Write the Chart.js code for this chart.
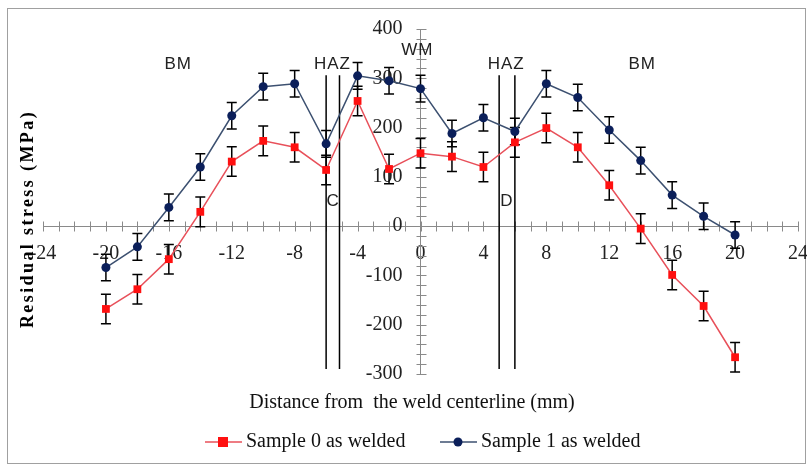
<!DOCTYPE html>
<html>
<head>
<meta charset="utf-8">
<script src="https://cdn.jsdelivr.net/npm/chart.js@4/dist/chart.umd.min.js"></script>
<style>
html,body{margin:0;padding:0;background:#fff;}
#wrap{position:relative;width:807px;height:464px;}
</style>
</head>
<body>
<div id="wrap"><canvas id="c"></canvas></div>
<script>
// ---- data ----
const distances = [-20,-18,-16,-14,-12,-10,-8,-6,-4,-2,0,2,4,6,8,10,12,14,16,18,20];
const sample0 = [-168,-128,-67,29,131,173,160,114,254,116,148,141,120,170,199,160,83,-5,-99,-162,-266];
const sample1 = [-84,-42,38,120,224,283,289,167,305,295,279,188,220,192,289,261,195,133,63,20,-18];
const err0 = [30,30,30,30,30,30,30,30,30,30,30,30,30,30,30,30,30,30,30,30,30];
const err1 = [27,27,27,27,27,27,27,27,27,27,27,27,27,27,27,27,27,27,27,27,27];
const seriesNames = ['Sample 0 as welded','Sample 1 as welded'];
const zoneBoundaries = [-6,-5.15,5,6];
const zoneLabels = ['BM','HAZ','WM','HAZ','BM','C','D'];
const zoneLabelX = [-15.4,-5.6,-0.2,5.45,14.1,-5.55,5.5];
const zoneLabelY = [329,329,357,329,329,50,50];
const xTitle = 'Distance from  the weld centerline (mm)';
const yTitle = 'Residual stress (MPa)';

const pts = (ys) => distances.map((x,i)=>({x:x,y:ys[i]}));
const RED = '#ff1010', RED_LINE = '#e8505a';
const NAVY = '#0b1f5a', NAVY_LINE = '#3c5070';
const SERIF = '"Liberation Serif", "Times New Roman", serif';

const decor = {
  id:'decor',
  beforeDraw(chart){
    const ctx = chart.ctx;
    ctx.save();
    ctx.strokeStyle = '#a0a0a0'; ctx.lineWidth = 1;
    ctx.strokeRect(7.5, 8.5, 798, 455);
    ctx.restore();
  },
  beforeDatasetsDraw(chart){
    const ctx = chart.ctx, xs = chart.scales.x, ys = chart.scales.y;
    ctx.save();
    // minor tick marks crossing the axes
    ctx.strokeStyle = '#8a8a8a'; ctx.lineWidth = 1;
    const y0 = Math.round(ys.getPixelForValue(0)) + 0.5;
    for (let v = xs.min; v <= xs.max; v += 1) {
      const px = Math.round(xs.getPixelForValue(v)) + 0.5;
      ctx.beginPath(); ctx.moveTo(px, y0-5); ctx.lineTo(px, y0+5); ctx.stroke();
    }
    const x0 = Math.round(xs.getPixelForValue(0)) + 0.5;
    for (let v = ys.min; v <= ys.max; v += 20) {
      const py = Math.round(ys.getPixelForValue(v)) + 0.5;
      ctx.beginPath(); ctx.moveTo(x0-5, py); ctx.lineTo(x0+5, py); ctx.stroke();
    }
    // zone boundary lines
    ctx.strokeStyle = '#000'; ctx.lineWidth = 1.5;
    zoneBoundaries.forEach(b => {
      const px = xs.getPixelForValue(b);
      ctx.beginPath(); ctx.moveTo(px, ys.getPixelForValue(306)); ctx.lineTo(px, ys.getPixelForValue(-290)); ctx.stroke();
    });
    // zone labels
    ctx.fillStyle = '#222'; ctx.font = '17px "Liberation Sans", Arial, sans-serif';
    ctx.letterSpacing = '1px';
    ctx.textAlign = 'center'; ctx.textBaseline = 'middle';
    zoneLabels.forEach((t,i) => {
      ctx.fillText(t, xs.getPixelForValue(zoneLabelX[i]), ys.getPixelForValue(zoneLabelY[i]));
    });
    ctx.letterSpacing = '0px';
    // error bars
    ctx.strokeStyle = '#000'; ctx.lineWidth = 1.5;
    [[sample0,err0],[sample1,err1]].forEach(([vals,errs]) => {
      vals.forEach((v,i) => {
        const px = xs.getPixelForValue(distances[i]);
        const pt = ys.getPixelForValue(v+errs[i]), pb = ys.getPixelForValue(v-errs[i]);
        ctx.beginPath();
        ctx.moveTo(px, pt); ctx.lineTo(px, pb);
        ctx.moveTo(px-5, pt); ctx.lineTo(px+5, pt);
        ctx.moveTo(px-5, pb); ctx.lineTo(px+5, pb);
        ctx.stroke();
      });
    });
    ctx.restore();
  },
  afterDraw(chart){
    const ctx = chart.ctx;
    ctx.save();
    // axis titles
    ctx.fillStyle = '#111';
    ctx.font = '20px ' + SERIF;
    ctx.textAlign = 'center'; ctx.textBaseline = 'middle';
    ctx.fillText(xTitle, 412, 403);
    ctx.save();
    ctx.translate(28, 219); ctx.rotate(-Math.PI/2);
    ctx.font = 'bold 18px ' + SERIF;
    ctx.letterSpacing = '2.4px';
    ctx.fillStyle = '#000';
    ctx.fillText(yTitle, 0, 0);
    ctx.restore();
    // legend
    const items = [
      {x:205, line:RED_LINE, fill:RED, style:'rect', text:seriesNames[0]},
      {x:440, line:NAVY_LINE, fill:NAVY, style:'circle', text:seriesNames[1]}
    ];
    const ly = 442;
    items.forEach(it => {
      ctx.strokeStyle = it.line; ctx.lineWidth = 1.5;
      ctx.beginPath(); ctx.moveTo(it.x, ly); ctx.lineTo(it.x+37, ly); ctx.stroke();
      ctx.fillStyle = it.fill;
      if (it.style === 'rect') ctx.fillRect(it.x+13, ly-5, 10, 10);
      else { ctx.beginPath(); ctx.arc(it.x+18, ly, 4.5, 0, Math.PI*2); ctx.fill(); }
      ctx.fillStyle = '#111'; ctx.textAlign = 'left';
      ctx.font = '20px ' + SERIF;
      ctx.fillText(it.text, it.x+41, ly);
    });
    ctx.restore();
  }
};

new Chart(document.getElementById('c'), {
  type: 'line',
  data: {
    datasets: [
      {label: seriesNames[0], data: pts(sample0), borderColor: RED_LINE, backgroundColor: RED,
       borderWidth: 1.5, pointStyle: 'rect', pointRadius: 5.5, pointBorderWidth: 0, pointBackgroundColor: RED, tension: 0},
      {label: seriesNames[1], data: pts(sample1), borderColor: NAVY_LINE, backgroundColor: NAVY,
       borderWidth: 1.5, pointStyle: 'circle', pointRadius: 4.5, pointBorderWidth: 0, pointBackgroundColor: NAVY, tension: 0}
    ]
  },
  options: {
    responsive: true, maintainAspectRatio: false, animation: false,
    layout: {autoPadding: false, padding: {left: 43, right: 9, top: 29, bottom: 90}},
    plugins: {legend: {display: false}, tooltip: {enabled: false}},
    scales: {
      x: {
        type: 'linear', position: {y: 0}, min: -24, max: 24,
        afterFit: (s) => { s.height = 0; s.paddingLeft = 0; s.paddingRight = 0; },
        grid: {display: false},
        border: {display: true, color: '#8a8a8a', width: 1},
        ticks: {stepSize: 4, autoSkip: false, maxRotation: 0, padding: 8,
          color: '#222', font: {family: SERIF, size: 20}}
      },
      y: {
        type: 'linear', position: 'center', min: -300, max: 400,
        afterFit: (s) => { s.width = 0; s.paddingTop = 0; s.paddingBottom = 0; },
        grid: {display: false},
        border: {display: true, color: '#8a8a8a', width: 1},
        ticks: {stepSize: 100, padding: 10,
          color: '#222', font: {family: SERIF, size: 20}}
      }
    }
  },
  plugins: [decor]
});
</script>
</body>
</html>
